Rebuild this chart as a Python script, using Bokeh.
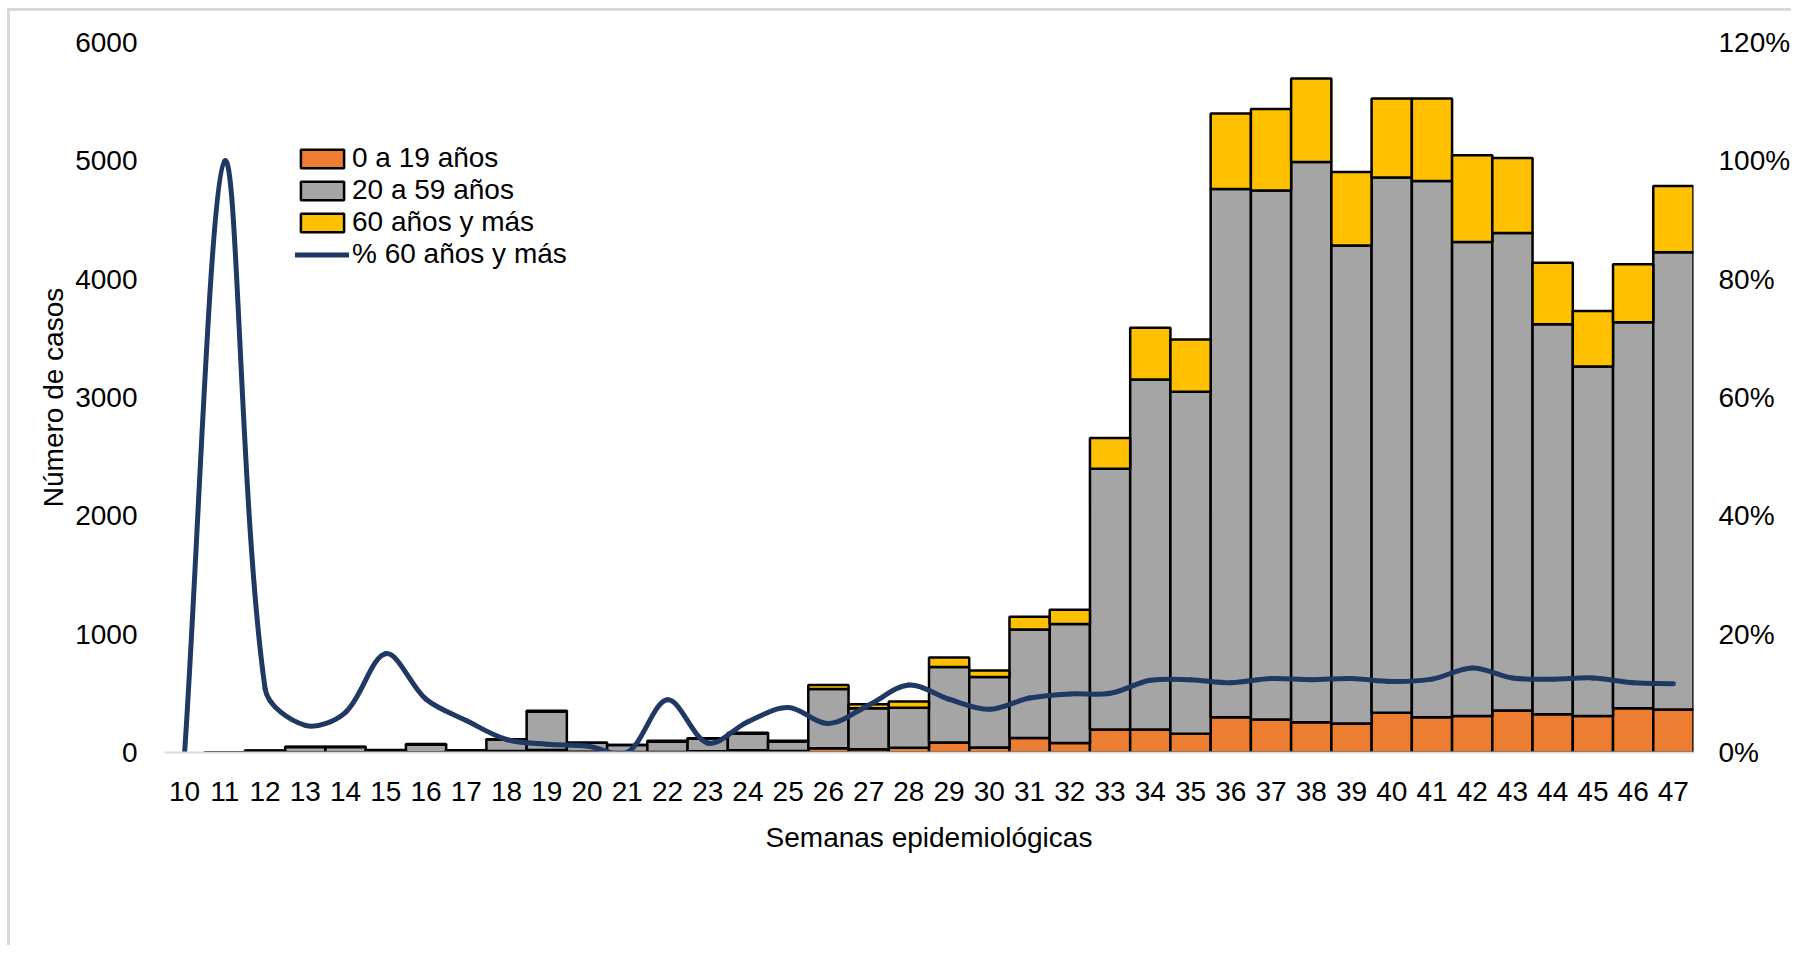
import numpy as np
from bokeh.plotting import figure
from bokeh.models import (ColumnDataSource, Range1d, LinearAxis, FixedTicker,
                          PrintfTickFormatter, Legend, LegendItem, CDSView, BooleanFilter)
from bokeh.embed import file_html
from bokeh.resources import INLINE

weeks = list(range(10, 48))
age_0_19 = [0, 0, 0, 2, 2, 1, 3, 1, 12, 22, 7, 5, 5, 10, 18, 12, 35, 27, 41, 85,
            42, 123, 80, 195, 195, 158, 298, 278, 256, 246, 335, 297, 309, 354,
            323, 309, 375, 363]
age_20_59 = [0, 0, 15, 45, 44, 16, 62, 18, 97, 325, 75, 58, 86, 108, 140, 80, 502,
             346, 338, 638, 595, 917, 1005, 2202, 2957, 2891, 4463, 4472, 4735,
             4038, 4525, 4533, 4005, 4037, 3296, 2952, 3261, 3864]
age_60_plus = [0, 3, 2, 2, 3, 4, 6, 1, 3, 5, 1, 0, 9, 2, 9, 8, 33, 34, 51, 79, 56,
               107, 122, 261, 438, 441, 638, 689, 705, 621, 666, 696, 734, 633,
               519, 471, 490, 560]
pct_60_plus = [0, 100, 10.8, 4.6, 6.8, 16.7, 9.0, 5.4, 2.2, 1.4, 1.1, 0, 8.9, 1.6,
               5.2, 7.6, 4.9, 8.0, 11.4, 9.0, 7.3, 9.2, 9.9, 10.0, 12.2, 12.3,
               11.8, 12.5, 12.3, 12.5, 12.0, 12.4, 14.3, 12.6, 12.4, 12.6, 11.8, 11.6]
series_labels = ["0 a 19 años", "20 a 59 años", "60 años y más", "% 60 años y más"]
left_ticks = [0, 1000, 2000, 3000, 4000, 5000, 6000]
right_ticks = [0, 20, 40, 60, 80, 100, 120]

FONT = "Liberation Sans"
FS = "28px"
COLORS = ["#ED7D31", "#A5A5A5", "#FFC000"]
LINE_COLOR = "#203864"

W, H = 1784, 937
ML, MR, MT, MB = 154, 101, 31, 196
X0, X1, Y0, Y1 = 9.5, 47.5, 0, 6000
P0, P1 = 0, 120

p = figure(width=W, height=H, output_backend="svg", toolbar_location=None,
           x_range=Range1d(X0, X1), y_range=Range1d(Y0, Y1),
           min_border_left=ML, min_border_right=MR, min_border_top=MT,
           min_border_bottom=MB)
p.styles = {"margin-left": "7px", "margin-top": "8px",
            "border-top": "3px solid #D9D9D9", "border-left": "3px solid #D9D9D9"}
p.outline_line_color = None
p.xgrid.visible = False
p.ygrid.visible = False
p.extra_y_ranges = {"pct": Range1d(P0, P1)}

src = ColumnDataSource(dict(week=weeks, a=age_0_19, b=age_20_59, c=age_60_plus))
nonzero = [(a + b + c) > 0 for a, b, c in zip(age_0_19, age_20_59, age_60_plus)]
view = CDSView(filter=BooleanFilter(nonzero))
bars = p.vbar_stack(["a", "b", "c"], x="week", width=1.0, source=src, view=view,
                    fill_color=COLORS, line_color="black", line_width=2.5)

# smoothed line: Bezier segments through the read values, with control arms
# proportional to neighbouring segment lengths in screen space (spreadsheet-style)
fw, fh = W - ML - MR, H - MT - MB
kx, ky = fw / (X1 - X0), fh / (P1 - P0)
x = np.array(weeks, dtype=float)
y = np.array(pct_60_plus, dtype=float)
sx, sy = x * kx, y * ky
d = np.hypot(np.diff(sx), np.diff(sy))
n = len(x)
out_x = np.zeros(n); out_y = np.zeros(n)
in_x = np.zeros(n); in_y = np.zeros(n)
for i in range(n):
    if 0 < i < n - 1:
        tx, ty = sx[i + 1] - sx[i - 1], sy[i + 1] - sy[i - 1]
        tot = d[i - 1] + d[i]
        fo, fi = d[i] / tot / 3, d[i - 1] / tot / 3
        out_x[i], out_y[i] = tx * fo, ty * fo
        in_x[i], in_y[i] = tx * fi, ty * fi
    elif i == 0:
        out_x[i], out_y[i] = (sx[1] - sx[0]) / 3, (sy[1] - sy[0]) / 3
    else:
        in_x[i], in_y[i] = (sx[-1] - sx[-2]) / 3, (sy[-1] - sy[-2]) / 3
line = p.bezier(x0=x[:-1], y0=y[:-1], x1=x[1:], y1=y[1:],
                cx0=x[:-1] + out_x[:-1] / kx, cy0=y[:-1] + out_y[:-1] / ky,
                cx1=x[1:] - in_x[1:] / kx, cy1=y[1:] - in_y[1:] / ky,
                line_color=LINE_COLOR, line_width=5, line_cap="round",
                y_range_name="pct")

def style_axis(ax, standoff):
    ax.major_label_text_font = FONT
    ax.major_label_text_font_size = FS
    ax.major_label_text_color = "black"
    ax.major_tick_in = 0
    ax.major_tick_out = 0
    ax.minor_tick_in = 0
    ax.minor_tick_out = 0
    ax.major_label_standoff = standoff
    ax.axis_label_text_font = FONT
    ax.axis_label_text_font_size = FS
    ax.axis_label_text_font_style = "normal"
    ax.axis_label_text_color = "black"

xa = p.xaxis[0]
xa.ticker = FixedTicker(ticks=weeks)
xa.axis_label = "Semanas epidemiológicas"
style_axis(xa, 29)
xa.axis_label_standoff = 18
xa.axis_line_color = "#D9D9D9"
xa.axis_line_width = 2

ya = p.yaxis[0]
ya.ticker = FixedTicker(ticks=left_ticks)
ya.formatter = PrintfTickFormatter(format="%d")
ya.axis_label = "Número de casos"
style_axis(ya, 27)
ya.axis_label_standoff = 3
ya.axis_line_color = None

ra = LinearAxis(y_range_name="pct", ticker=FixedTicker(ticks=right_ticks),
                formatter=PrintfTickFormatter(format="%d%%"))
style_axis(ra, 25)
ra.axis_line_color = None
p.add_layout(ra, "right")

legend = Legend(items=[LegendItem(label=series_labels[0], renderers=[bars[0]]),
                       LegendItem(label=series_labels[1], renderers=[bars[1]]),
                       LegendItem(label=series_labels[2], renderers=[bars[2]]),
                       LegendItem(label=series_labels[3], renderers=[line])],
                location=(131, 482), orientation="vertical",
                label_text_font=FONT, label_text_font_size=FS,
                label_text_color="black", glyph_width=54, glyph_height=23,
                label_height=23, spacing=-1, padding=0, margin=0,
                label_standoff=3, border_line_color=None,
                background_fill_alpha=0)
p.add_layout(legend, "center")

open("out.html", "w").write(file_html(p, INLINE))
